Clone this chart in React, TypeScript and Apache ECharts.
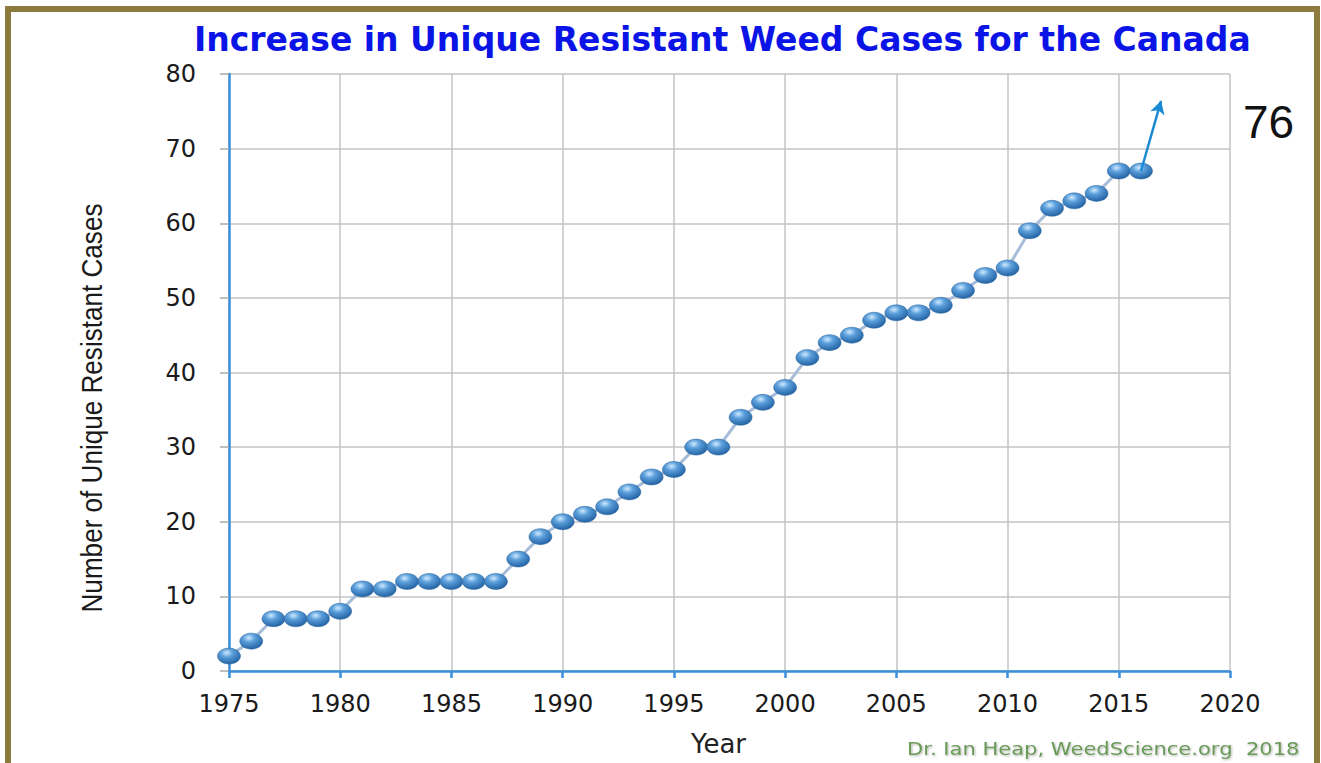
import React, { useEffect, useRef } from "react";
import * as echarts from "echarts";

const years = [
  1975, 1976, 1977, 1978, 1979, 1980, 1981, 1982, 1983, 1984, 1985, 1986, 1987, 1988,
  1989, 1990, 1991, 1992, 1993, 1994, 1995, 1996, 1997, 1998, 1999, 2000, 2001, 2002,
  2003, 2004, 2005, 2006, 2007, 2008, 2009, 2010, 2011, 2012, 2013, 2014, 2015, 2016,
];
const cases = [
  2, 4, 7, 7, 7, 8, 11, 11, 12, 12, 12, 12, 12, 15,
  18, 20, 21, 22, 24, 26, 27, 30, 30, 34, 36, 38, 42, 44,
  45, 47, 48, 48, 49, 51, 53, 54, 59, 62, 63, 64, 67, 67,
];
const arrowStart = [2016, 67];
const arrowEnd = [2016.9, 76.4];
const projectedLabel = "76";
const titleText = "Increase in Unique Resistant Weed Cases for the Canada";
const yAxisTitle = "Number of Unique Resistant Cases";
const xAxisTitle = "Year";
const creditText = "Dr. Ian Heap, WeedScience.org  2018";

export default function App() {
  const ref = useRef<HTMLDivElement>(null);
  useEffect(() => {
    if (!ref.current) return;
    const chart = echarts.init(ref.current, undefined, { renderer: "svg" });
    const axisBlue = "#3A8FDB";
    const gridGray = "#C4C4C4";
    chart.setOption({
      animation: false,
      backgroundColor: "#ffffff",
      title: {
        text: titleText,
        left: 189,
        top: 18,
        textStyle: {
          fontFamily: "DejaVu Sans",
          fontWeight: "bold",
          fontSize: 33,
          color: "#0A14E6",
        },
      },
      grid: { left: 229, right: 91, top: 74, bottom: 92 },
      xAxis: {
        type: "value",
        min: 1975,
        max: 2020,
        interval: 5,
        name: xAxisTitle,
        nameLocation: "middle",
        nameGap: 60,
        nameTextStyle: {
          fontFamily: "DejaVu Sans",
          fontSize: 26,
          color: "#222",
          padding: [0, 22, 0, 0],
        },
        axisLine: { show: true, lineStyle: { color: axisBlue, width: 2.5 } },
        axisTick: { show: true, length: 7, lineStyle: { color: axisBlue, width: 2.5 } },
        axisLabel: {
          margin: 21,
          fontFamily: "DejaVu Sans",
          fontSize: 24,
          color: "#1a1a1a",
          formatter: (v: number) => String(v),
        },
        splitLine: { show: true, lineStyle: { color: gridGray, width: 1.5 } },
      },
      yAxis: {
        type: "value",
        min: 0,
        max: 80,
        interval: 10,
        axisLine: { show: true, lineStyle: { color: axisBlue, width: 2.5 } },
        axisTick: { show: true, inside: false, length: 9, lineStyle: { color: "#A8A8A8", width: 1.5 } },
        axisLabel: {
          margin: 33,
          fontFamily: "DejaVu Sans",
          fontSize: 24,
          color: "#1a1a1a",
        },
        splitLine: { show: true, lineStyle: { color: gridGray, width: 1.5 } },
      },
      series: [
        {
          type: "line",
          data: years.map((y, i) => [y, cases[i]]),
          lineStyle: { color: "#A7BCD8", width: 3 },
          symbol: "circle",
          symbolSize: [23, 16],
          itemStyle: {
            color: {
              type: "radial",
              x: 0.4,
              y: 0.3,
              r: 0.75,
              colorStops: [
                { offset: 0, color: "#CFEAFF" },
                { offset: 0.35, color: "#5B9FDB" },
                { offset: 1, color: "#1D5C9E" },
              ],
            },
            borderColor: "#2A659F",
            borderWidth: 0.5,
          },
          z: 3,
          markLine: {
            silent: true,
            symbol: ["none", "arrow"],
            symbolSize: [11, 13],
            label: { show: false },
            lineStyle: { color: "#1A8AD4", width: 2.5, type: "solid" },
            data: [[{ coord: arrowStart }, { coord: arrowEnd }]],
          },
        },
      ],
      graphic: [
        {
          type: "rect",
          shape: { x: 8, y: 9, width: 1309, height: 800 },
          style: { fill: "none", stroke: "#8C7B3C", lineWidth: 6 },
          z: 100,
        },
        {
          type: "text",
          x: 92,
          y: 408,
          rotation: Math.PI / 2,
          scaleX: 0.9,
          style: {
            text: yAxisTitle,
            fontFamily: "Liberation Sans",
            fontSize: 29,
            fill: "#1a1a1a",
            align: "center",
            verticalAlign: "middle",
          },
        },
        {
          type: "text",
          left: 1243,
          top: 99,
          style: {
            text: projectedLabel,
            fontFamily: "Liberation Sans",
            fontSize: 46,
            fill: "#111",
          },
        },
        {
          type: "text",
          x: 907,
          y: 740,
          scaleX: 1.17,
          style: {
            text: creditText,
            fontFamily: "DejaVu Sans",
            fontSize: 18,
            fill: "#6A9A58",
            textShadowColor: "rgba(0,0,0,0.3)",
            textShadowBlur: 2,
            textShadowOffsetX: 1,
            textShadowOffsetY: 1,
          },
        },
      ],
    });
    return () => chart.dispose();
  }, []);
  return (
    <div
      ref={ref}
      style={{ position: "fixed", left: 0, top: 0, width: 1321, height: 763 }}
    />
  );
}
